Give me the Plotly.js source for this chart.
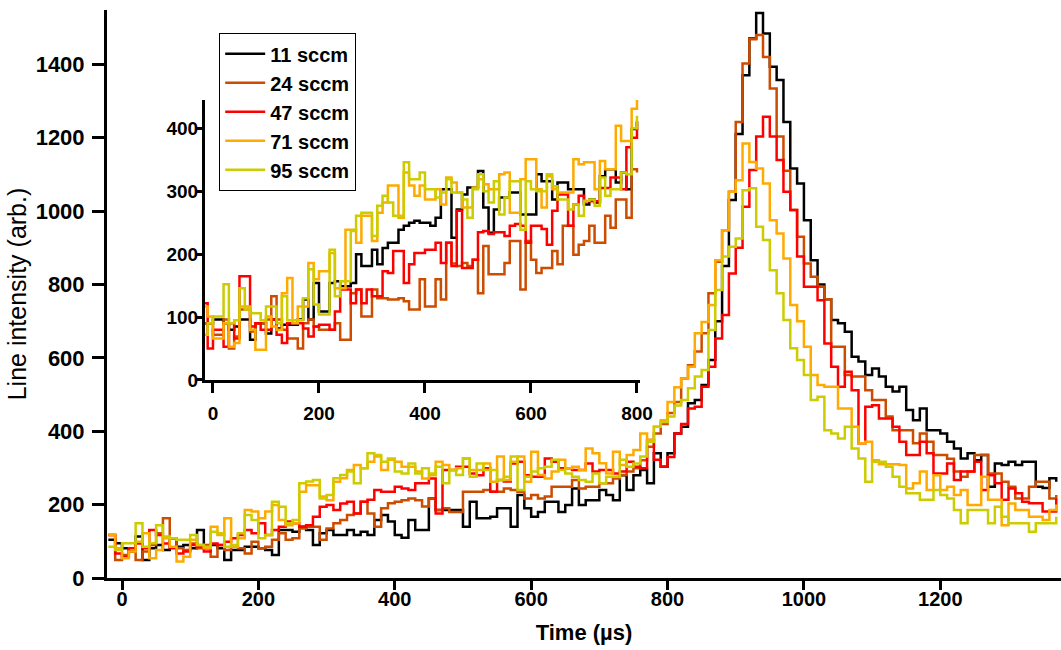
<!DOCTYPE html>
<html>
<head>
<meta charset="utf-8">
<script src="https://cdn.plot.ly/plotly-3.0.1.min.js"></script>
<style>
html,body{margin:0;padding:0;background:#fff;}
#chart{width:1061px;height:650px;}
</style>
</head>
<body>
<div id="chart"></div>
<script>
// Time bins (µs), start of each 10 µs bin
const mainTime = [
  -20,-10,0,10,20,30,40,50,60,70,
  80,90,100,110,120,130,140,150,160,170,
  180,190,200,210,220,230,240,250,260,270,
  280,290,300,310,320,330,340,350,360,370,
  380,390,400,410,420,430,440,450,460,470,
  480,490,500,510,520,530,540,550,560,570,
  580,590,600,610,620,630,640,650,660,670,
  680,690,700,710,720,730,740,750,760,770,
  780,790,800,810,820,830,840,850,860,870,
  880,890,900,910,920,930,940,950,960,970,
  980,990,1000,1010,1020,1030,1040,1050,1060,1070,
  1080,1090,1100,1110,1120,1130,1140,1150,1160,1170,
  1180,1190,1200,1210,1220,1230,1240,1250,1260,1270,
  1280,1290,1300,1310,1320,1330,1340,1350,1360,1370
];

const seriesNames = ["11 sccm", "24 sccm", "47 sccm", "71 sccm", "95 sccm"];
const seriesColors = ["#000000", "#cc4c00", "#ff0000", "#ffaa00", "#cccc00"];

// Main panel intensities (arb.)
const main11 = [
  104,95,81,72,113,49,81,90,76,108,
  85,90,81,131,81,90,81,49,76,76,
  85,85,81,76,63,131,131,126,140,131,
  90,122,131,117,117,131,117,126,117,158,
  172,154,117,110,158,131,131,217,185,185,
  185,185,140,208,163,163,167,190,190,140,
  226,190,167,180,208,208,180,199,244,199,
  212,212,240,226,212,280,240,280,294,258,
  340,303,340,394,412,476,485,526,594,700,
  850,1030,1210,1370,1470,1540,1484,1393,1357,1243,
  1116,1075,975,866,800,760,703,694,671,603,
  590,553,571,549,521,508,521,458,430,462,
  403,403,394,371,353,326,340,321,335,249,
  312,308,317,308,317,317,249,245,272,262
];
const main24 = [
  117,49,63,72,49,72,90,122,163,108,
  81,76,94,81,90,58,90,76,85,81,
  67,99,81,85,104,122,104,108,135,140,
  140,104,135,149,158,172,176,208,176,140,
  190,204,208,212,217,212,195,217,185,190,
  180,180,235,235,235,240,235,235,244,240,
  235,217,226,217,222,249,249,249,267,244,
  249,249,258,258,271,281,290,299,321,358,
  394,420,450,480,544,580,617,667,776,862,
  948,1053,1243,1402,1468,1480,1420,1334,1203,1110,
  1003,930,857,821,794,760,630,630,553,549,
  549,512,485,485,440,403,403,403,367,394,
  371,335,335,325,290,276,290,335,335,285,
  285,262,249,217,217,249,262,262,217,226
];
const main47 = [
  117,67,58,81,94,81,131,117,94,81,
  67,72,90,85,72,94,90,99,108,117,
  131,122,149,117,131,140,154,149,140,144,
  167,194,199,185,203,208,176,208,213,240,
  235,235,249,244,240,258,258,271,176,294,
  294,303,303,285,280,299,235,267,263,312,
  317,280,276,276,326,317,299,299,294,294,
  312,290,294,294,285,290,317,303,299,376,
  322,303,330,394,420,462,467,521,576,653,
  717,830,900,1012,1112,1203,1257,1203,1139,1053,
  1003,876,794,794,757,639,576,521,562,512,
  367,467,471,435,435,412,371,335,335,371,
  340,285,285,312,267,290,290,317,240,280,
  258,213,244,231,208,204,204,181,181,217
];
const main71 = [
  117,81,54,72,99,122,54,76,108,85,
  45,58,104,90,81,140,117,163,85,108,
  185,181,163,181,199,158,144,149,235,253,
  253,222,212,262,272,294,308,299,317,331,
  294,322,317,303,303,290,271,280,317,308,
  294,299,326,294,294,312,262,331,267,317,
  331,262,344,281,271,290,322,299,303,294,
  353,340,313,285,344,308,335,349,394,376,
  412,430,480,520,544,576,667,698,744,866,
  948,1053,1084,1184,1134,1116,1075,975,939,871,
  744,700,630,553,526,521,521,462,462,412,
  367,371,321,310,310,310,308,244,258,290,
  240,280,240,249,226,240,199,199,276,213,
  213,144,203,185,185,167,167,158,185,200
];
const main95 = [
  85,76,95,95,149,85,95,144,113,108,
  104,104,117,90,85,126,122,85,90,122,
  172,158,108,117,208,194,149,158,258,263,
  267,217,226,272,281,290,258,299,340,335,
  317,326,290,285,312,285,299,285,303,258,
  294,281,326,276,312,294,294,267,276,331,
  240,276,290,299,303,322,294,285,276,267,
  262,285,258,276,276,322,303,312,331,371,
  412,425,440,470,485,517,549,567,676,785,
  876,903,925,1057,1062,957,921,839,776,703,
  626,594,553,485,494,403,394,380,412,353,
  326,262,317,317,303,276,249,231,231,213,
  213,240,226,217,185,149,185,185,185,149,
  194,167,149,149,149,126,149,149,149,167
];

// Inset panel intensities (arb.), bins -20 ... 800 µs
const inset11 = [
  90,90,96,96,90,80,85,96,96,64,
  90,90,74,96,82,88,88,88,96,128,
  96,154,109,109,154,157,149,149,154,200,
  181,181,207,184,210,218,218,239,245,250,
  253,250,250,245,258,303,303,226,271,295,
  306,306,332,274,234,271,290,290,298,298,
  263,263,263,327,316,316,287,314,314,303,
  303,303,279,287,282,324,335,335,314,330,
  303,399,410
];
const inset24 = [
  90,90,72,72,96,50,69,112,112,77,
  90,90,96,133,96,80,66,66,50,90,
  96,85,80,80,80,90,64,64,138,144,
  101,101,144,130,130,128,128,130,125,112,
  112,160,117,117,160,128,218,185,181,186,
  181,191,138,213,168,168,168,186,221,221,
  144,221,191,170,178,178,205,184,245,245,
  199,215,221,245,218,218,261,242,287,287,
  258,335,330
];
const inset47 = [
  122,50,80,80,53,90,66,165,165,85,
  90,80,80,96,72,59,90,90,90,82,
  69,85,88,88,80,109,144,144,122,144,
  122,144,133,133,173,170,205,205,154,184,
  202,202,207,207,218,186,218,181,269,178,
  178,191,235,237,232,235,235,229,245,248,
  245,218,245,245,240,215,269,295,295,245,
  279,293,284,284,284,305,305,322,322,303,
  370,385,412
];
const inset71 = [
  117,101,66,66,90,53,59,117,117,80,
  48,48,101,85,80,138,162,90,117,117,
  186,160,173,173,202,146,146,239,239,218,
  261,261,221,266,282,309,309,258,330,309,
  293,309,287,287,303,279,322,314,298,274,
  274,306,319,311,303,303,327,330,266,266,
  319,351,351,303,274,324,303,298,298,298,
  351,343,346,346,303,348,335,335,404,380,
  380,431,447
];
const inset95 = [
  72,90,101,101,152,90,95,146,112,106,
  106,95,117,117,90,133,95,95,95,130,
  176,120,104,104,207,133,157,157,237,261,
  266,266,229,277,293,282,261,261,346,319,
  319,330,303,303,290,298,319,298,298,287,
  258,303,327,300,282,316,263,290,316,316,
  239,316,303,300,300,327,308,287,287,271,
  279,261,285,287,277,322,293,303,303,330,
  327,400,420
];
const insetTime = mainTime.slice(0, inset11.length);

const mainTicks = [0, 200, 400, 600, 800, 1000, 1200];
const mainYTicks = [0, 200, 400, 600, 800, 1000, 1200, 1400];
const insetXTicks = [0, 200, 400, 600, 800];
const insetYTicks = [0, 100, 200, 300, 400];

const mainSeries = [main11, main24, main47, main71, main95];
const insetSeries = [inset11, inset24, inset47, inset71, inset95];

const FONT = "Liberation Sans, Arial, Helvetica, sans-serif";
const NARROW = "Liberation Sans Narrow, Arial Narrow, Liberation Sans, Arial, sans-serif";

const traces = [];
mainSeries.forEach((vals, i) => {
  traces.push({
    x: mainTime, y: vals, type: "scatter", mode: "lines",
    line: {shape: "hv", color: seriesColors[i], width: 2.5},
    name: seriesNames[i], xaxis: "x", yaxis: "y", showlegend: true
  });
});
insetSeries.forEach((vals, i) => {
  traces.push({
    x: insetTime, y: vals, type: "scatter", mode: "lines",
    line: {shape: "hv", color: seriesColors[i], width: 2.5},
    name: seriesNames[i], xaxis: "x2", yaxis: "y2", showlegend: false
  });
});

const axisCommon = {
  showgrid: false, zeroline: false, showline: true,
  linecolor: "#000", linewidth: 3, ticks: "outside",
  tickcolor: "#000", tickwidth: 3, mirror: false
};

const layout = {
  width: 1061, height: 650,
  margin: {l: 107, r: 0, t: 10, b: 72},
  paper_bgcolor: "#fff", plot_bgcolor: "rgba(0,0,0,0)",
  showlegend: true,
  xaxis: Object.assign({}, axisCommon, {
    range: [-22, 1377], tickvals: mainTicks, ticklen: 9,
    ticklabelstandoff: -8,
    tickfont: {family: NARROW, size: 20, color: "#000", weight: "bold"},
    title: {text: "Time (µs)", standoff: 16,
      font: {family: FONT, size: 22, color: "#000", weight: "bold"}},
    domain: [0, 1]
  }),
  yaxis: Object.assign({}, axisCommon, {
    range: [0, 1548], tickvals: mainYTicks, ticklen: 12,
    ticklabelstandoff: 3,
    tickfont: {family: FONT, size: 22, color: "#000", weight: "bold"},
    title: {text: "Line intensity (arb.)", standoff: 2,
      font: {family: FONT, size: 25, color: "#000"}},
    domain: [0, 1]
  }),
  xaxis2: Object.assign({}, axisCommon, {
    range: [-15.1, 805.7], tickvals: insetXTicks, ticklen: 10,
    ticklabelstandoff: 4,
    anchor: "y2", domain: [0.1027, 0.5587],
    tickfont: {family: FONT, size: 19, color: "#000", weight: "bold"}
  }),
  yaxis2: Object.assign({}, axisCommon, {
    range: [0, 445], tickvals: insetYTicks, ticklen: 5,
    ticklabelstandoff: -5,
    anchor: "x2", domain: [0.3486, 0.8415],
    tickfont: {family: FONT, size: 19, color: "#000", weight: "bold"}
  }),
  legend: {
    x: 0.1174, y: 0.9595, xanchor: "left", yanchor: "top",
    bgcolor: "#fff", bordercolor: "#000", borderwidth: 1.2,
    font: {family: FONT, size: 20, color: "#000", weight: "bold"},
    itemwidth: 40, tracegroupgap: 0
  }
};

Plotly.newPlot("chart", traces, layout, {displayModeBar: false, staticPlot: true});
</script>
</body>
</html>
